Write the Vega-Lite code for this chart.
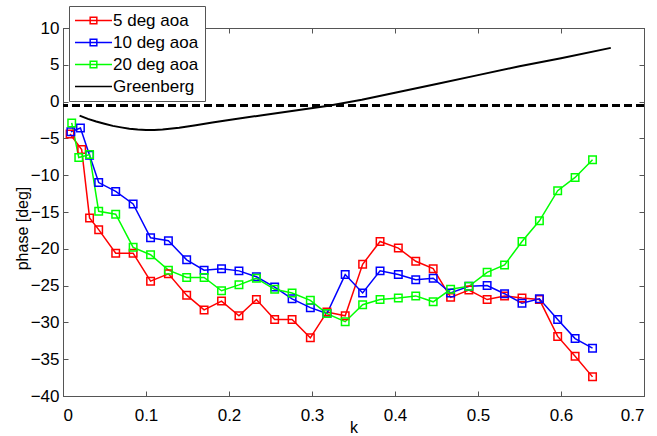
{
  "$schema": "https://vega.github.io/schema/vega-lite/v6.json",
  "width": 581,
  "height": 368,
  "autosize": "none",
  "padding": {"left": 63, "top": 28, "right": 13, "bottom": 40},
  "background": "white",
  "config": {
    "font": "Liberation Sans",
    "view": {"stroke": "#555555", "strokeWidth": 1},
    "axis": {
      "grid": false,
      "domainColor": "#555555",
      "domainWidth": 1,
      "tickColor": "#555555",
      "tickSize": -5,
      "labelFont": "Liberation Sans",
      "labelFontSize": 17,
      "labelColor": "black",
      "titleFont": "Liberation Sans",
      "titleFontSize": 16,
      "titleFontWeight": "normal",
      "titleColor": "black"
    }
  },
  "data": {
    "values": [
      {"series": "5 deg aoa", "k": 0.0085, "phase": -4.4},
      {"series": "5 deg aoa", "k": 0.0225, "phase": -6.5},
      {"series": "5 deg aoa", "k": 0.032, "phase": -15.8},
      {"series": "5 deg aoa", "k": 0.043, "phase": -17.4},
      {"series": "5 deg aoa", "k": 0.0635, "phase": -20.6},
      {"series": "5 deg aoa", "k": 0.0845, "phase": -20.6},
      {"series": "5 deg aoa", "k": 0.1055, "phase": -24.4},
      {"series": "5 deg aoa", "k": 0.127, "phase": -23.4},
      {"series": "5 deg aoa", "k": 0.149, "phase": -26.3},
      {"series": "5 deg aoa", "k": 0.17, "phase": -28.3},
      {"series": "5 deg aoa", "k": 0.191, "phase": -27.1},
      {"series": "5 deg aoa", "k": 0.212, "phase": -29.1},
      {"series": "5 deg aoa", "k": 0.233, "phase": -26.9},
      {"series": "5 deg aoa", "k": 0.255, "phase": -29.6},
      {"series": "5 deg aoa", "k": 0.276, "phase": -29.6},
      {"series": "5 deg aoa", "k": 0.298, "phase": -32.1},
      {"series": "5 deg aoa", "k": 0.318, "phase": -28.6},
      {"series": "5 deg aoa", "k": 0.34, "phase": -29.1},
      {"series": "5 deg aoa", "k": 0.361, "phase": -22.1},
      {"series": "5 deg aoa", "k": 0.382, "phase": -19.0},
      {"series": "5 deg aoa", "k": 0.404, "phase": -19.9},
      {"series": "5 deg aoa", "k": 0.425, "phase": -21.7},
      {"series": "5 deg aoa", "k": 0.446, "phase": -22.7},
      {"series": "5 deg aoa", "k": 0.467, "phase": -26.6},
      {"series": "5 deg aoa", "k": 0.489, "phase": -25.6},
      {"series": "5 deg aoa", "k": 0.511, "phase": -26.9},
      {"series": "5 deg aoa", "k": 0.532, "phase": -26.4},
      {"series": "5 deg aoa", "k": 0.553, "phase": -26.7},
      {"series": "5 deg aoa", "k": 0.574, "phase": -26.9},
      {"series": "5 deg aoa", "k": 0.596, "phase": -31.9},
      {"series": "5 deg aoa", "k": 0.617, "phase": -34.6},
      {"series": "5 deg aoa", "k": 0.638, "phase": -37.4},
      {"series": "10 deg aoa", "k": 0.0095, "phase": -4.1},
      {"series": "10 deg aoa", "k": 0.021, "phase": -3.6},
      {"series": "10 deg aoa", "k": 0.032, "phase": -7.3},
      {"series": "10 deg aoa", "k": 0.043, "phase": -11.0},
      {"series": "10 deg aoa", "k": 0.0635, "phase": -12.2},
      {"series": "10 deg aoa", "k": 0.0845, "phase": -13.9},
      {"series": "10 deg aoa", "k": 0.1055, "phase": -18.5},
      {"series": "10 deg aoa", "k": 0.127, "phase": -18.9},
      {"series": "10 deg aoa", "k": 0.149, "phase": -21.5},
      {"series": "10 deg aoa", "k": 0.17, "phase": -22.9},
      {"series": "10 deg aoa", "k": 0.191, "phase": -22.7},
      {"series": "10 deg aoa", "k": 0.212, "phase": -23.0},
      {"series": "10 deg aoa", "k": 0.233, "phase": -23.8},
      {"series": "10 deg aoa", "k": 0.255, "phase": -25.2},
      {"series": "10 deg aoa", "k": 0.276, "phase": -26.8},
      {"series": "10 deg aoa", "k": 0.298, "phase": -28.0},
      {"series": "10 deg aoa", "k": 0.318, "phase": -28.8},
      {"series": "10 deg aoa", "k": 0.34, "phase": -23.5},
      {"series": "10 deg aoa", "k": 0.361, "phase": -26.0},
      {"series": "10 deg aoa", "k": 0.382, "phase": -23.0},
      {"series": "10 deg aoa", "k": 0.404, "phase": -23.5},
      {"series": "10 deg aoa", "k": 0.425, "phase": -24.2},
      {"series": "10 deg aoa", "k": 0.446, "phase": -24.0},
      {"series": "10 deg aoa", "k": 0.467, "phase": -26.0},
      {"series": "10 deg aoa", "k": 0.489, "phase": -25.1},
      {"series": "10 deg aoa", "k": 0.511, "phase": -25.0},
      {"series": "10 deg aoa", "k": 0.532, "phase": -26.1},
      {"series": "10 deg aoa", "k": 0.553, "phase": -27.4},
      {"series": "10 deg aoa", "k": 0.574, "phase": -26.8},
      {"series": "10 deg aoa", "k": 0.596, "phase": -29.6},
      {"series": "10 deg aoa", "k": 0.617, "phase": -32.2},
      {"series": "10 deg aoa", "k": 0.638, "phase": -33.5},
      {"series": "20 deg aoa", "k": 0.0105, "phase": -2.9},
      {"series": "20 deg aoa", "k": 0.019, "phase": -7.6},
      {"series": "20 deg aoa", "k": 0.032, "phase": -7.2},
      {"series": "20 deg aoa", "k": 0.043, "phase": -14.9},
      {"series": "20 deg aoa", "k": 0.0635, "phase": -15.3},
      {"series": "20 deg aoa", "k": 0.0845, "phase": -19.8},
      {"series": "20 deg aoa", "k": 0.1055, "phase": -20.8},
      {"series": "20 deg aoa", "k": 0.127, "phase": -22.9},
      {"series": "20 deg aoa", "k": 0.149, "phase": -23.9},
      {"series": "20 deg aoa", "k": 0.17, "phase": -23.9},
      {"series": "20 deg aoa", "k": 0.191, "phase": -25.7},
      {"series": "20 deg aoa", "k": 0.212, "phase": -24.9},
      {"series": "20 deg aoa", "k": 0.233, "phase": -24.0},
      {"series": "20 deg aoa", "k": 0.255, "phase": -25.5},
      {"series": "20 deg aoa", "k": 0.276, "phase": -26.0},
      {"series": "20 deg aoa", "k": 0.298, "phase": -27.0},
      {"series": "20 deg aoa", "k": 0.318, "phase": -28.8},
      {"series": "20 deg aoa", "k": 0.34, "phase": -29.9},
      {"series": "20 deg aoa", "k": 0.361, "phase": -27.6},
      {"series": "20 deg aoa", "k": 0.382, "phase": -26.9},
      {"series": "20 deg aoa", "k": 0.404, "phase": -26.7},
      {"series": "20 deg aoa", "k": 0.425, "phase": -26.4},
      {"series": "20 deg aoa", "k": 0.446, "phase": -27.2},
      {"series": "20 deg aoa", "k": 0.467, "phase": -25.5},
      {"series": "20 deg aoa", "k": 0.489, "phase": -25.1},
      {"series": "20 deg aoa", "k": 0.511, "phase": -23.2},
      {"series": "20 deg aoa", "k": 0.532, "phase": -22.2},
      {"series": "20 deg aoa", "k": 0.553, "phase": -19.0},
      {"series": "20 deg aoa", "k": 0.574, "phase": -16.2},
      {"series": "20 deg aoa", "k": 0.596, "phase": -12.1},
      {"series": "20 deg aoa", "k": 0.617, "phase": -10.3},
      {"series": "20 deg aoa", "k": 0.638, "phase": -7.9},
      {"series": "Greenberg", "k": 0.02, "phase": -1.9},
      {"series": "Greenberg", "k": 0.03, "phase": -2.35},
      {"series": "Greenberg", "k": 0.04, "phase": -2.7},
      {"series": "Greenberg", "k": 0.05, "phase": -3.0},
      {"series": "Greenberg", "k": 0.06, "phase": -3.3},
      {"series": "Greenberg", "k": 0.07, "phase": -3.5},
      {"series": "Greenberg", "k": 0.08, "phase": -3.68},
      {"series": "Greenberg", "k": 0.09, "phase": -3.8},
      {"series": "Greenberg", "k": 0.1, "phase": -3.85},
      {"series": "Greenberg", "k": 0.11, "phase": -3.85},
      {"series": "Greenberg", "k": 0.12, "phase": -3.8},
      {"series": "Greenberg", "k": 0.14, "phase": -3.55},
      {"series": "Greenberg", "k": 0.16, "phase": -3.2},
      {"series": "Greenberg", "k": 0.18, "phase": -2.85},
      {"series": "Greenberg", "k": 0.2, "phase": -2.5},
      {"series": "Greenberg", "k": 0.24, "phase": -1.85},
      {"series": "Greenberg", "k": 0.28, "phase": -1.2},
      {"series": "Greenberg", "k": 0.32, "phase": -0.55},
      {"series": "Greenberg", "k": 0.36, "phase": 0.25},
      {"series": "Greenberg", "k": 0.4, "phase": 1.2},
      {"series": "Greenberg", "k": 0.45, "phase": 2.4},
      {"series": "Greenberg", "k": 0.5, "phase": 3.6},
      {"series": "Greenberg", "k": 0.55, "phase": 4.8},
      {"series": "Greenberg", "k": 0.6, "phase": 5.9},
      {"series": "Greenberg", "k": 0.66, "phase": 7.3}
    ]
  },
  "resolve": {"axis": {"x": "independent", "y": "independent"}},
  "layer": [
    {
      "mark": {"type": "rule", "strokeDash": [8, 4], "strokeWidth": 2, "color": "black"},
      "encoding": {
        "y": {"datum": -0.55, "type": "quantitative", "axis": null, "scale": {"domain": [-40, 10], "nice": false}}
      }
    },
    {
      "transform": [{"filter": "datum.series === 'Greenberg'"}],
      "mark": {"type": "line", "strokeWidth": 2, "clip": true},
      "encoding": {
        "x": {"field": "k", "type": "quantitative", "scale": {"domain": [0, 0.7], "nice": false},
          "axis": {"orient": "top", "labels": false, "title": null, "tickSize": -5, "values": [0, 0.1, 0.2, 0.3, 0.4, 0.5, 0.6, 0.7]}},
        "y": {"field": "phase", "type": "quantitative", "scale": {"domain": [-40, 10], "nice": false},
          "axis": {"orient": "right", "labels": false, "title": null, "tickSize": -5, "values": [-40, -35, -30, -25, -20, -15, -10, -5, 0, 5, 10]}},
        "color": {"field": "series", "type": "nominal",
          "scale": {"domain": ["5 deg aoa", "10 deg aoa", "20 deg aoa", "Greenberg"], "range": ["#ff0000", "#0000ff", "#00ff00", "#000000"]},
          "legend": {
            "title": null, "orient": "none", "legendX": 6, "legendY": -22,
            "labelFont": "Liberation Sans", "labelFontSize": 17, "labelColor": "black",
            "strokeColor": "#555555", "fillColor": "white", "padding": 6, "rowPadding": 4,
            "symbolSize": 152, "symbolStrokeWidth": 1.5, "symbolOffset": 10, "labelOffset": 11,
            "encode": {
              "symbols": {"update": {
                "shape": {"signal": "datum.value === 'Greenberg' ? 'M-3,0H3' : 'M-3,0H3M-0.54,-0.54H0.54V0.54H-0.54Z'"},
                "fill": {"value": "transparent"},
                "strokeWidth": {"value": 1.5},
                "opacity": {"value": 1}
              }}
            }
          }
        }
      }
    },
    {
      "transform": [{"filter": "datum.series !== 'Greenberg'"}],
      "mark": {"type": "line", "strokeWidth": 1.5},
      "encoding": {
        "x": {"field": "k", "type": "quantitative", "title": "k",
          "axis": {"orient": "bottom", "values": [0, 0.1, 0.2, 0.3, 0.4, 0.5, 0.6, 0.7], "tickSize": -5,
            "labelFont": "Liberation Sans", "labelFontSize": 17, "titleFont": "Liberation Sans", "titleFontSize": 16, "titleFontWeight": "normal",
            "labelPadding": 16, "titleBaseline": "alphabetic", "titleY": 36.5, "labelExpr": "datum.value === 0 ? '0' : format(datum.value, '.1f')"}},
        "y": {"field": "phase", "type": "quantitative", "title": "phase [deg]",
          "axis": {"orient": "left", "values": [-40, -35, -30, -25, -20, -15, -10, -5, 0, 5, 10], "tickSize": -5,
            "labelFont": "Liberation Sans", "labelFontSize": 17, "titleFont": "Liberation Sans", "titleFontSize": 16, "titleFontWeight": "normal",
            "labelPadding": 9, "titleBaseline": "middle", "titleX": -41, "titleY": 200}},
        "color": {"field": "series", "type": "nominal"}
      }
    },
    {
      "transform": [{"filter": "datum.series !== 'Greenberg'"}],
      "mark": {"type": "point", "shape": "square", "size": 56, "filled": false, "strokeWidth": 1.5, "opacity": 1},
      "encoding": {
        "x": {"field": "k", "type": "quantitative", "axis": null},
        "y": {"field": "phase", "type": "quantitative", "axis": null},
        "color": {"field": "series", "type": "nominal"}
      }
    }
  ]
}
